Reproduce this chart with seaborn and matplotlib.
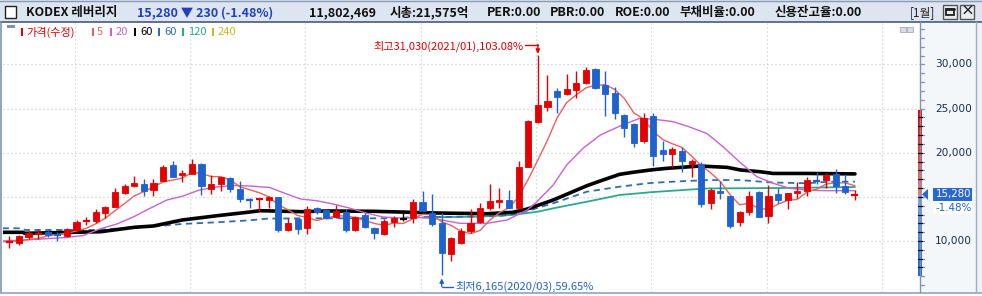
import numpy as np
import pandas as pd
import matplotlib
matplotlib.use("Agg")
import matplotlib.pyplot as plt
import seaborn as sns
from matplotlib.patches import Rectangle, Polygon

# ---------------- data (monthly candles 2016/06 .. 2023/10) ----------------
opens = [9900, 9810, 10490, 10750, 10990, 10790, 10600, 11250, 12250, 12270,
         13140, 13850, 15470, 16230, 16460, 15810, 16830, 18610, 17510, 17590,
         18720, 15920, 16420, 17100, 15860, 14760, 14750, 14680, 14980, 11280,
         12490, 11510, 13700, 13510, 12750, 13320, 11250, 12950, 11510, 10790,
         12190, 12460, 12640, 14380, 13140, 12010, 8490, 9810, 11130, 12150,
         13700, 14380, 14640, 13770, 18410, 23440, 25210, 26990, 26650, 27100,
         27860, 29450, 27670, 26730, 24270, 23250, 21360, 24160, 20310, 19890,
         20190, 18720, 18690, 14340, 15660, 15100, 12190, 13320, 15550, 12870,
         15320, 14640, 15470, 15660, 16910, 16910, 17550, 16260, 15150]
highs = [10570, 10680, 11170, 11330, 11330, 10990, 11440, 12380, 12680, 13590,
         14000, 15970, 16460, 17360, 17020, 17020, 18570, 19060, 18040, 19290,
         18870, 17440, 17250, 17280, 16800, 14840, 14840, 15100, 14980, 12570,
         12490, 13930, 13880, 13590, 14080, 13590, 12830, 13140, 11620, 12460,
         12830, 13510, 14760, 15660, 15320, 13140, 10450, 11440, 13590, 14270,
         16420, 16040, 15780, 19060, 23700, 31030, 28800, 27290, 28910, 29250,
         29740, 29630, 29290, 27470, 24380, 23330, 24460, 24530, 21330, 20610,
         20610, 19290, 18950, 16040, 16830, 15100, 13400, 15700, 15660, 16340,
         15970, 15400, 16650, 17210, 17850, 17740, 18120, 17550, 15780]
lows = [9170, 9550, 10190, 10230, 10490, 10030, 10420, 11100, 11810, 12070,
        12570, 13850, 15320, 16080, 15130, 15130, 16830, 17280, 16720, 17590,
        15210, 15320, 15700, 15580, 14450, 13770, 13400, 13700, 10990, 11170,
        10830, 10830, 13020, 12490, 12570, 11020, 11170, 11510, 10230, 10680,
        11550, 12300, 12070, 13430, 11730, 6165, 7770, 9630, 10940, 12010,
        13510, 13770, 13770, 13770, 18410, 23330, 24760, 24460, 26540, 26160,
        27750, 27210, 24190, 23820, 21810, 20680, 21130, 18490, 19090, 18350,
        17850, 17210, 13880, 13660, 14790, 11510, 11730, 12910, 12720, 12070,
        14340, 13660, 14900, 15130, 16460, 15970, 15470, 15320, 14640]
closes = [9950, 10570, 10940, 10800, 10680, 10650, 11360, 12150, 12300, 13280,
          13880, 15550, 16230, 16570, 15700, 16570, 18380, 17280, 17740, 18720,
          16260, 16460, 17250, 15920, 14790, 14610, 14800, 14950, 11280, 12040,
          11390, 13620, 13320, 12570, 13400, 11250, 12720, 11620, 10940, 12300,
          12570, 12460, 14380, 13430, 11890, 8675, 10370, 11130, 12070, 13740,
          14530, 14640, 13770, 18410, 23620, 25400, 25860, 26340, 27210, 27930,
          29370, 27360, 26650, 24530, 22830, 21130, 23960, 19660, 19890, 20420,
          19090, 19060, 14220, 15780, 15470, 11730, 13320, 15100, 12750, 15100,
          14640, 15400, 15660, 16910, 16760, 17470, 16260, 15510, 15280]

# moving-average lines (position in months, price)
ma5_pos = [-1, 0, 1, 2, 3] + list(range(4, 89))
ma5_val = [9900, 9940, 10000, 10170, 10280,
           10590, 10730, 10890, 11130, 11430, 11950, 12590, 13430, 14250, 15100,
           15590, 16120, 16690, 16900, 17130, 17740, 17680, 17290, 17290, 16920,
           16140, 15810, 15470, 15010, 14090, 13540, 12890, 12660, 12330, 12590,
           12860, 12830, 12650, 12310, 11990, 11770, 12030, 11980, 12530, 13030,
           12950, 12170, 11750, 11100, 10830, 11200, 12370, 13220, 13750, 15020,
           16990, 19170, 21410, 23930, 25690, 26550, 27340, 27640, 27700, 27170,
           26150, 24500, 23820, 22420, 21490, 21010, 20600, 19620, 18540, 17710,
           16720, 15250, 14100, 14280, 13670, 13600, 14180, 14600, 14710, 15540,
           15870, 16440, 16610, 16580, 16260]
ma20_pos = [-0.7, 2.5, 6.0, 7.7, 9.4, 11.2, 12.9, 14.6, 16.4, 18.1, 19.8, 21.6,
            23.3, 25.0, 27.1, 28.5, 30.3, 32.0, 33.7, 35.5, 37.2, 38.9, 40.7,
            42.4, 44.1, 45.9, 46.9, 49.7, 51.8, 53.9, 54.9, 56.6, 58.0, 59.7,
            61.5, 63.5, 65.6, 67.4, 69.1, 70.8, 72.6, 74.3, 76.0, 77.8, 79.5,
            81.2, 83.0, 84.7, 88.0]
ma20_val = [10000, 10170, 10400, 10620, 11360, 11930, 12720, 13680, 14640,
            15100, 15780, 16120, 16290, 16230, 16060, 15470, 14760, 14560,
            14190, 13700, 13140, 12720, 12600, 12660, 12570, 12190, 12000,
            12000, 12380, 13510, 14450, 16340, 18610, 20500, 22000, 23000,
            23900, 23750, 23510, 22910, 22170, 20650, 18950, 17280, 16530,
            15970, 15780, 15700, 15700]
ma60_pos = [-0.7, 1.4, 1.6, 9.5, 13.0, 15.0, 18.0, 21.6, 25.0, 26.1, 30.5,
            33.0, 38.0, 44.5, 49.7, 52.4, 53.9, 56.6, 60.1, 61.5, 63.5, 64.9,
            66.7, 68.4, 71.9, 74.7, 76.1, 78.1, 79.5, 83.0, 88.0]
ma60_val = [10985, 10985, 10870, 11050, 11550, 11700, 12380, 12860, 13280,
            13430, 13320, 13400, 13360, 13170, 13090, 13250, 13620, 14640,
            16260, 16800, 17550, 17780, 18040, 18230, 18490, 18340, 18040,
            17850, 17650, 17650, 17600]
ma60b_pos = [-0.7, 1.4, 1.6, 9.0, 10.5, 13.0, 15.0, 18.0, 21.6, 25.0, 26.8,
             30.5, 40.6, 41.6, 47.0, 51.0, 53.1, 56.6, 60.1, 63.5, 66.7, 69.1,
             72.6, 76.0, 79.5, 83.0, 85.4, 88.0]
ma60b_val = [11440, 11440, 11250, 11250, 11360, 11510, 11640, 11930, 12120,
             12340, 12530, 12570, 12570, 12680, 12750, 12830, 13140, 14270,
             15580, 16150, 16570, 16720, 16900, 16900, 16620, 16540, 16720,
             16720]
ma120_pos = [43.0, 48.7, 52.4, 55.0, 56.6, 60.1, 61.5, 63.5, 66.7, 69.1, 72.6,
             80.0, 88.0]
ma120_val = [12680, 12750, 12950, 13320, 13700, 14450, 14760, 15210, 15520,
             15700, 15950, 16000, 16110]

legend_labels = ["가격(수정)", "5", "20", "60", "60", "120", "240"]
y_grid = [10000, 15000, 20000, 25000, 30000]
y_labels = [10000, 20000, 25000, 30000]   # 15,000 is hidden by the price tag

cur_price = 15280
chg = 230
chg_pct = -1.48
hi_idx, hi_val, hi_label = 55, 31030, "최고31,030(2021/01),103.08%"
lo_idx, lo_val, lo_label = 45, 6165, "최저6,165(2020/03),59.65%"
band_top, band_bottom = 24800, 6050

# ---------------- style ----------------
RED = "#e40000"
BLUE = "#1f62cf"
C_MA5 = "#e9615c"
C_MA20 = "#c862cf"
C_MA60 = "#000000"
C_MA60B = "#2f6db3"
C_MA120 = "#2ba88f"
C_MA240 = "#c4bb1a"
GRID = "#c4c4c4"
AXC = "#7f93b5"

sns.set_theme(style="white")
plt.rcParams['font.family'] = ['Noto Sans CJK KR', 'DejaVu Sans']

W, H = 982, 296
fig = plt.figure(figsize=(W / 100, H / 100), dpi=100)
fig.patch.set_facecolor("white")

PL, PR, PT, PB = 3, 920, 23, 292
XMIN, XMAX = -0.656, 94.77
YMIN, YMAX = 4224, 34689
ax = fig.add_axes([PL / W, 1 - PB / H, (PR - PL) / W, (PB - PT) / H])
ax.set_facecolor("white")
ax.set_xlim(XMIN, XMAX)
ax.set_ylim(YMIN, YMAX)
for s in ax.spines.values():
    s.set_visible(False)
ax.set_xticks([])
ax.set_yticks([])

# grid
for k in range(8):
    ax.axvline(6.8 + 12 * k, color=GRID, lw=0.8, ls=(0, (1, 2.6)), zorder=0)
for p in y_grid:
    ax.axhline(p, color=GRID, lw=0.8, ls=(0, (1, 2.6)), zorder=0)

# moving averages (seaborn)
sns.lineplot(x=ma120_pos, y=ma120_val, ax=ax, color=C_MA120, lw=1.3,
             sort=False, estimator=None, zorder=2)
sns.lineplot(x=ma60b_pos, y=ma60b_val, ax=ax, color=C_MA60B, lw=1.3,
             ls=(0, (3.5, 2.5)), sort=False, estimator=None, zorder=2)
sns.lineplot(x=ma60_pos, y=ma60_val, ax=ax, color=C_MA60, lw=2.6,
             sort=False, estimator=None, zorder=2)
sns.lineplot(x=ma20_pos, y=ma20_val, ax=ax, color=C_MA20, lw=1.0,
             sort=False, estimator=None, zorder=2)
sns.lineplot(x=ma5_pos, y=ma5_val, ax=ax, color=C_MA5, lw=1.0,
             sort=False, estimator=None, zorder=2)

# candles
ppx = (YMAX - YMIN) / (PB - PT)
for i, (o, h, l, c) in enumerate(zip(opens, highs, lows, closes)):
    col = RED if c > o else (BLUE if c < o else "black")
    ax.vlines(i, l, h, color=col, lw=1.0, zorder=3)
    lo_b, hi_b = min(o, c), max(o, c)
    if hi_b - lo_b < 1.6 * ppx:
        ax.hlines((o + c) / 2, i - 0.36, i + 0.36, color=col, lw=1.6, zorder=4)
    else:
        ax.add_patch(Rectangle((i - 0.32, lo_b), 0.64, hi_b - lo_b, facecolor=col,
                               edgecolor=col, lw=0.6, zorder=4))
if ax.legend_:
    ax.legend_.remove()

# ---------------- decorations in pixel coordinates ----------------
deco = fig.add_axes([0, 0, 1, 1], zorder=10)
deco.set_xlim(0, W)
deco.set_ylim(H, 0)
deco.axis("off")
deco.patch.set_alpha(0)


def px(i):
    return PL + (i - XMIN) / (XMAX - XMIN) * (PR - PL)


def py(p):
    return PB - (p - YMIN) / (YMAX - YMIN) * (PB - PT)


# header bar
deco.add_patch(Rectangle((0, 0), W, 22, fc="#dce5f0", ec="none"))
deco.plot([0, W], [22, 22], color="#4a5a78", lw=1.2)
deco.plot([0, W], [0.5, 0.5], color="#8a9ab5", lw=1)
deco.add_patch(Rectangle((5.5, 5.5), 11, 12, fc="white", ec="#222", lw=1))
hdr = dict(va="center", fontsize=9, fontweight="bold")
deco.text(26, 12.5, "KODEX 레버리지", color="#111", **hdr)
deco.text(137, 12.5, f"{cur_price:,} ▼ {chg} ({chg_pct:.2f}%)", color="#1f3fbf", **hdr)
deco.text(309, 12.5, "11,802,469", color="#111", **hdr)
deco.text(390, 12.5, "시총:21,575억", color="#111", **hdr)
deco.text(487, 12.5, "PER:0.00", color="#111", **hdr)
deco.text(550, 12.5, "PBR:0.00", color="#111", **hdr)
deco.text(615, 12.5, "ROE:0.00", color="#111", **hdr)
deco.text(680, 12.5, "부채비율:0.00", color="#111", **hdr)
deco.text(775, 12.5, "신용잔고율:0.00", color="#111", **hdr)
deco.text(910, 12.5, "[1월]", color="#222", va="center", fontsize=8.5)
for bx in (943.5, 960.5):
    deco.add_patch(Rectangle((bx, 4.5), 14, 14, fc="#e9ecf0", ec="#555", lw=1))
deco.add_patch(Rectangle((946.5, 8.5), 8, 6, fc="none", ec="#222", lw=1.3))
deco.plot([946.5, 954.5], [9, 9], color="#222", lw=2)
deco.text(967.5, 11.5, "×", ha="center", va="center", fontsize=10,
          fontweight="bold", color="#222")

# frame lines
deco.plot([1.5, 1.5], [22, PB], color=AXC, lw=1.2)
deco.plot([0, W], [PB + 0.5, PB + 0.5], color="#8ca3c6", lw=1.2)

# right price panel
deco.add_patch(Rectangle((PR + 0.5, 22.7), 976 - PR - 0.5, PB - 22.7, fc="#f4f7fa", ec="none"))
deco.add_patch(Rectangle((976.5, 22.7), W - 976.5, PB - 22.7, fc="#eef1f5", ec="none"))
deco.plot([976.5, 976.5], [22, PB], color="#9aaccb", lw=1)
deco.plot([PR, PR], [22, PB], color=AXC, lw=1)

# gradient band on axis
nseg = 120
for k in range(nseg):
    p0 = band_bottom + (band_top - band_bottom) * k / nseg
    p1 = band_bottom + (band_top - band_bottom) * (k + 1) / nseg
    pm = (p0 + p1) / 2
    if pm >= cur_price:
        t = (pm - cur_price) / (band_top - cur_price)
        col = (0.95 - 0.07 * t, 0.50 - 0.50 * t, 0.50 - 0.50 * t)
    else:
        t = (cur_price - pm) / (cur_price - band_bottom)
        col = (0.50 - 0.38 * t, 0.66 - 0.28 * t, 0.90 - 0.08 * t)
    deco.add_patch(Rectangle((918.3, py(p1)), 3.6, py(p0) - py(p1) + 0.3,
                             fc=col, ec="none"))

for p in range(5000, 35000, 1000):
    y = py(p)
    if PT < y < PB:
        deco.plot([PR, PR + 4], [y, y], color=AXC, lw=0.9)
        if band_bottom < p < band_top:
            deco.plot([918.3, 921.9], [y, y], color="black", lw=0.9)
for p in y_labels:
    deco.text(972, py(p), f"{p:,}", ha="right", va="center", fontsize=7.6,
              color="#1b2a4d", family="DejaVu Sans")

# current price marker
yc = py(cur_price)
deco.add_patch(Polygon([(922, yc), (928, yc - 5.5), (928, yc + 5.5)], closed=True,
                       fc="#2a67d0", ec="none"))
deco.add_patch(Rectangle((933, yc - 6.5), 39, 13, fc="#2a67d0", ec="none"))
deco.text(971.5, yc - 0.3, f"{cur_price:,}", ha="right", va="center", fontsize=7.4,
          color="white", family="DejaVu Sans")
deco.add_patch(Rectangle((933, yc + 6.5), 39, 13.5, fc="white", ec="none"))
deco.text(971.5, yc + 13.5, f"{chg_pct:.2f}%", ha="right", va="center", fontsize=7.4,
          color="#1f62cf", family="DejaVu Sans")

# high / low annotations
xh, yh = px(hi_idx), py(hi_val)
deco.text(524, 46, hi_label, ha="right", va="center", fontsize=8, color=RED)
deco.plot([525, xh], [44.5, 44.5], color=RED, lw=1)
deco.annotate("", xy=(xh, yh - 1.5), xytext=(xh, 44.5),
              arrowprops=dict(arrowstyle="-|>", color=RED, lw=1, mutation_scale=6,
                              shrinkA=0, shrinkB=0))
xl, yl = px(lo_idx), py(lo_val)
deco.text(455, 286.5, lo_label, ha="left", va="center", fontsize=8, color=BLUE)
deco.plot([xl, 453], [286.5, 286.5], color=BLUE, lw=1)
deco.annotate("", xy=(xl, yl + 3.5), xytext=(xl, 286.5),
              arrowprops=dict(arrowstyle="-|>", color=BLUE, lw=1, mutation_scale=6,
                              shrinkA=0, shrinkB=0))

# legend row
deco.add_patch(Rectangle((7, 24.5), 8, 3, fc="#8393ad", ec="none"))
leg = [(20.7, 26, RED), (91.7, 96.5, C_MA5), (110, 116, C_MA20), (134, 140, "#000"),
       (158.3, 164, C_MA60B), (182.3, 188, C_MA120), (212, 218, C_MA240)]
for (mx, tx, col), lab in zip(leg, legend_labels):
    deco.add_patch(Rectangle((mx, 28.3), 2.2, 7.5, fc=col, ec="none"))
    deco.text(tx, 32.3, lab, ha="left", va="center", fontsize=8, color=col)

# small window icons at top right of chart area
for bx in (900.5, 907.5):
    deco.add_patch(Rectangle((bx, 26.5), 5.5, 5.5, fc="#d8dde6", ec="#a0a8b8", lw=0.6))

fig.savefig("out.png", dpi=100, facecolor=fig.get_facecolor())
